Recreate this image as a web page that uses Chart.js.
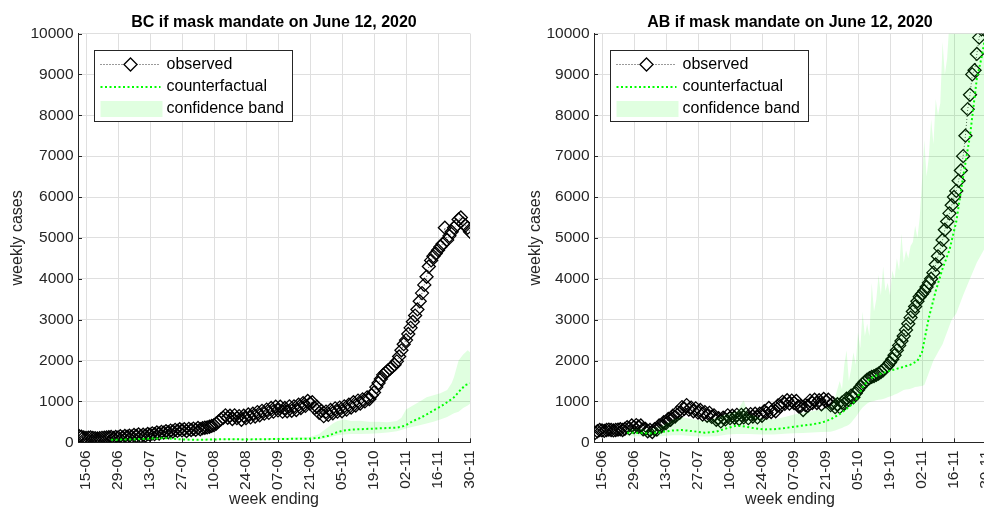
<!DOCTYPE html>
<html lang="en">
<head>
<meta charset="UTF-8">
<title>Mask mandate counterfactual</title>
<script src="https://cdn.jsdelivr.net/npm/chart.js"></script>
<style>
  html, body { margin: 0; padding: 0; background: #fff; overflow: hidden; }
  body { width: 984px; height: 508px; position: relative; }
  canvas { position: absolute; top: 0; }
  #bc { left: 0; }
  #ab { left: 492px; }
</style>
</head>
<body>

<canvas id="bc" width="492" height="508"></canvas>
<canvas id="ab" width="516" height="508"></canvas>

<script>
// x axis: days counted from 15 June 2020, observed series starts 12 June (day -3)
const firstDay = -3;
const tickDays = [0, 14, 28, 42, 56, 70, 84, 98, 112, 126, 140, 154, 168];
const tickLabels = ['15-06', '29-06', '13-07', '27-07', '10-08', '24-08', '07-09',
                    '21-09', '05-10', '19-10', '02-11', '16-11', '30-11'];
const yTicks = [0, 1000, 2000, 3000, 4000, 5000, 6000, 7000, 8000, 9000, 10000];

// BC - one value per day
const obsBC = [
  150, 135, 120, 110, 115, 120, 110, 100, 95, 100, 110, 115, 120, 125,
  130, 105, 130, 120, 150, 120, 155, 135, 160, 140,
  180, 155, 190, 150, 185, 165, 205, 185, 220, 200,
  240, 215, 255, 235, 270, 245, 285, 265, 305, 280,
  320, 290, 320, 275, 330, 300, 335, 305, 350, 320,
  345, 355, 365, 380, 400, 420, 460, 510, 560, 600,
  660, 600, 650, 570, 660, 590, 640, 550, 650, 590,
  680, 610, 700, 630, 740, 660, 770, 700, 800, 720,
  840, 750, 870, 780, 870, 750, 840, 760, 880, 770,
  880, 790, 920, 840, 960, 890, 1010, 950, 980, 840,
  870, 720, 770, 640, 750, 670, 790, 710, 830, 750,
  850, 760, 880, 800, 920, 850, 980, 900, 1020, 950,
  1050, 1000, 1100, 1060, 1150, 1220, 1350, 1450, 1550, 1650,
  1700, 1750, 1800, 1850, 1900, 1980, 2100, 2250, 2400, 2500,
  2650, 2800, 2950, 3100, 3250, 3450, 3650, 3850, 4050, 4300,
  4450, 4550, 4620, 4700, 4780, 4850, 5250, 4950, 5050, 5150,
  5250, 5300, 5450, 5500, 5350, 5300, 5250, 5150
];
const cfDaysBC = [11, 14, 21, 28, 35, 42, 49, 56, 63, 70, 77, 84, 91, 98, 102, 106, 109, 112,
                  116, 120, 124, 128, 132, 136, 138, 140, 143, 146, 149, 152, 155, 158, 161, 164, 166, 168];
const cfBC = [60, 65, 70, 90, 100, 70, 60, 70, 75, 70, 75, 80, 85, 90, 110, 160, 230, 280,
              310, 320, 330, 340, 350, 360, 380, 420, 520, 590, 680, 780, 870, 980, 1100, 1290, 1400, 1440];
const bandDaysBC = [11, 20, 28, 35, 42, 50, 56, 63, 70, 77, 84, 91, 98, 102, 105, 108, 110, 113, 116,
                    120, 124, 128, 132, 136, 138, 140, 143, 146, 149, 152, 155, 158, 160, 161, 163, 165, 167, 168];
const lowBC = [45, 50, 65, 75, 50, 45, 50, 55, 50, 55, 55, 60, 60, 70, 100, 140, 170, 190, 200,
               200, 210, 220, 240, 270, 300, 340, 380, 420, 460, 500, 560, 620, 680, 710, 750, 840, 900, 940];
const highBC = [80, 95, 120, 130, 95, 85, 95, 100, 95, 100, 110, 115, 130, 200, 330, 460, 520, 560, 520,
                530, 500, 500, 490, 520, 600, 800, 900, 1000, 1100, 1150, 1200, 1280, 1450, 1600, 2000, 2150, 2250, 2200];

// AB - one value per day
const obsAB = [
  230, 270, 300, 290, 280, 300, 310, 300, 290, 300, 310, 320, 300, 330,
  370, 340, 410, 370, 420, 380, 410, 320, 330, 270,
  300, 250, 320, 310, 410, 390, 490, 470, 570, 550,
  650, 630, 740, 720, 860, 820, 910, 800, 850, 760,
  830, 730, 790, 680, 740, 650, 720, 620, 660, 550,
  590, 510, 600, 560, 660, 590, 650, 600, 670, 570,
  670, 610, 690, 590, 690, 630, 700, 610, 700, 650,
  760, 720, 840, 740, 800, 760, 900, 880, 990, 940,
  1030, 950, 1020, 960, 1010, 880, 890, 790, 910, 890,
  1020, 960, 1040, 960, 1030, 930, 1060, 1000, 1040, 910,
  960, 860, 930, 860, 970, 940, 1070, 1040, 1140, 1100,
  1200, 1280, 1350, 1420, 1480, 1530, 1570, 1600, 1620, 1650,
  1680, 1720, 1760, 1820, 1880, 1950, 2030, 2130, 2250, 2370,
  2480, 2600, 2750, 2900, 3050, 3200, 3320, 3450, 3560, 3630,
  3700, 3800, 3900, 4000, 4150, 4350, 4550, 4750, 4950, 5200,
  5400, 5600, 5800, 6000, 6150, 6400, 6650, 7000, 7500, 8150,
  8500, 9000, 9100, 9500, 9900, 10100, 10400, 10700
];
const cfDaysAB = [11, 16, 21, 26, 31, 35, 40, 45, 50, 55, 59, 63, 67, 71, 75, 80, 84, 88, 92, 96,
                  100, 104, 108, 111, 114, 117, 121, 126, 131, 135, 138, 140, 143, 146, 149, 152, 155, 158, 161, 164, 166, 168];
const cfAB = [235, 230, 220, 250, 290, 300, 270, 235, 260, 350, 410, 380, 340, 315, 320, 350, 380, 410, 440, 480,
              560, 690, 860, 1020, 1350, 1550, 1660, 1750, 1830, 1900, 1990, 2200, 3050, 3700, 4250, 4700, 5400, 6500, 7500, 8900, 9400, 10000];
const bandDaysAB = [11, 16, 21, 26, 31, 35, 40, 45, 50, 55, 59, 62, 64, 70, 75, 80, 84, 88, 92, 96,
                    100, 102, 104, 105, 106, 107, 108, 109, 110, 111, 112, 113, 114, 115, 116, 117, 118, 119,
                    120, 121, 122, 123, 124, 125, 126, 127, 128, 129, 130, 131, 132, 133, 134, 135, 136, 137,
                    138, 139, 140, 141, 142, 143, 144, 145, 146, 147, 148, 149, 150, 151, 152, 153,
                    155, 158, 161, 164, 166, 168];
const lowAB = [150, 150, 140, 150, 170, 170, 150, 140, 150, 190, 200, 200, 200, 190, 190, 210, 220, 230, 240, 250,
               260, 290, 330, 350, 380, 400, 430, 480, 550, 620, 700, 780, 850, 900, 950, 980, 1000, 1010,
               1030, 1040, 1050, 1060, 1080, 1100, 1120, 1140, 1170, 1190, 1220, 1250, 1280, 1290, 1300, 1310, 1330, 1350,
               1360, 1370, 1380, 1400, 1550, 1700, 1850, 2000, 2100, 2200, 2300, 2400, 2550, 2700, 2850, 3000,
               3150, 3600, 4000, 4400, 4600, 4800];
const highAB = [320, 330, 320, 400, 560, 620, 560, 520, 600, 700, 760, 1030, 700, 580, 560, 620, 680, 720, 760, 800,
                900, 1100, 1500, 1300, 1900, 2250, 1500, 1800, 2200, 1900, 2700, 2300, 3200, 2600, 2900, 2600, 3900, 3200,
                3500, 4100, 3600, 4300, 3700, 3900, 3600, 4200, 4000, 4500, 4200, 5100, 4400, 4700, 4500, 4800, 4900, 5300,
                5000, 5500, 6400, 7400, 6500, 7000, 7900, 7300, 8400, 8000, 8300, 9800, 9000, 9400, 10300, 10000,
                11000, 12000, 13000, 14000, 14500, 15000];

const axisColor = '#262626';
const gridColor = '#dfdfdf';
const bandColor = 'rgba(0, 255, 0, 0.12)';
Chart.defaults.font.family = '"Liberation Sans", Arial, Helvetica, sans-serif';

function dailyPoints(vals) {
  return vals.map((v, i) => ({x: firstDay + i, y: v}));
}
function pairPoints(days, vals) {
  return days.map((d, i) => ({x: d, y: vals[i]}));
}

// title, legend box and inward tick marks (matlab look)
const panelDecor = {
  id: 'panelDecor',
  beforeDatasetsDraw(chart) {
    const {ctx, chartArea: a, scales: {x, y}} = chart;
    ctx.save();
    ctx.strokeStyle = axisColor;
    ctx.lineWidth = 1;
    ctx.beginPath();
    y.ticks.forEach(t => {
      const py = Math.round(y.getPixelForValue(t.value)) + 0.5;
      ctx.moveTo(a.left, py); ctx.lineTo(a.left + 4, py);
    });
    x.ticks.forEach(t => {
      const px = Math.round(x.getPixelForValue(t.value)) + 0.5;
      ctx.moveTo(px, a.bottom); ctx.lineTo(px, a.bottom - 4);
    });
    ctx.stroke();
    ctx.restore();
  },
  afterDraw(chart, args, opts) {
    const {ctx, chartArea: a} = chart;
    ctx.save();
    ctx.fillStyle = '#000';
    ctx.font = 'bold 16px "Liberation Sans", Arial, sans-serif';
    ctx.textAlign = 'center';
    ctx.textBaseline = 'alphabetic';
    ctx.fillText(opts.title, (a.left + a.right) / 2, 27);

    // legend
    const bx = Math.round(a.left + 16) + 0.5, by = Math.round(a.top + 16) + 0.5;
    const bw = 198, bh = 71;
    ctx.fillStyle = '#fff';
    ctx.fillRect(bx, by, bw, bh);
    ctx.strokeStyle = axisColor;
    ctx.lineWidth = 1;
    ctx.strokeRect(bx, by, bw, bh);

    const r1 = by + 14, r2 = by + 36.5, r3 = by + 58.5;
    ctx.strokeStyle = '#000';
    ctx.lineWidth = 0.8;
    ctx.setLineDash([1, 2]);
    ctx.beginPath(); ctx.moveTo(bx + 6, r1); ctx.lineTo(bx + 66, r1); ctx.stroke();
    ctx.setLineDash([]);
    ctx.fillStyle = '#fff';
    ctx.lineWidth = 1.3;
    ctx.beginPath();
    ctx.moveTo(bx + 36 - 6.5, r1); ctx.lineTo(bx + 36, r1 - 6.5);
    ctx.lineTo(bx + 36 + 6.5, r1); ctx.lineTo(bx + 36, r1 + 6.5);
    ctx.closePath(); ctx.fill(); ctx.stroke();

    ctx.strokeStyle = '#00ff00';
    ctx.lineWidth = 2;
    ctx.setLineDash([2, 2.5]);
    ctx.beginPath(); ctx.moveTo(bx + 6, r2); ctx.lineTo(bx + 66, r2); ctx.stroke();
    ctx.setLineDash([]);

    ctx.fillStyle = bandColor;
    ctx.fillRect(bx + 6, r3 - 8, 62, 16);

    ctx.fillStyle = '#000';
    ctx.font = '16px "Liberation Sans", Arial, sans-serif';
    ctx.textAlign = 'left';
    ctx.textBaseline = 'middle';
    ctx.fillText('observed', bx + 72, r1);
    ctx.fillText('counterfactual', bx + 72, r2);
    ctx.fillText('confidence band', bx + 72, r3);
    ctx.restore();
  }
};

function makePanel(id, title, obs, cfDays, cf, bandDays, low, high, yAxisWidth, yTitlePad) {
  return new Chart(document.getElementById(id), {
    type: 'line',
    data: {
      datasets: [
        {
          label: 'observed',
          data: dailyPoints(obs),
          borderColor: '#000',
          borderWidth: 0.7,
          borderDash: [1, 2],
          pointStyle: 'rectRot',
          pointRadius: 6.5,
          pointBorderWidth: 1.3,
          pointBorderColor: '#000',
          pointBackgroundColor: 'rgba(0,0,0,0)',
          order: 3
        },
        {
          label: 'counterfactual',
          data: pairPoints(cfDays, cf),
          borderColor: '#00ff00',
          borderWidth: 2,
          borderDash: [2, 2.5],
          pointRadius: 0,
          order: 2
        },
        {
          label: 'band low',
          data: pairPoints(bandDays, low),
          borderColor: 'rgba(0,0,0,0)',
          borderWidth: 0,
          pointRadius: 0,
          fill: false,
          order: 1
        },
        {
          label: 'confidence band',
          data: pairPoints(bandDays, high),
          borderColor: 'rgba(0,0,0,0)',
          borderWidth: 0,
          pointRadius: 0,
          backgroundColor: bandColor,
          fill: '-1',
          order: 0
        }
      ]
    },
    options: {
      responsive: false,
      animation: false,
      events: [],
      layout: { padding: { top: 33.5, right: 22, left: 0, bottom: 0 } },
      plugins: {
        legend: { display: false },
        tooltip: { enabled: false },
        panelDecor: { title: title }
      },
      scales: {
        x: {
          type: 'linear',
          min: -3.5,
          max: 168,
          afterBuildTicks: s => { s.ticks = tickDays.map(v => ({value: v})); },
          afterFit: s => { s.height = 65.7; s.paddingLeft = 0; s.paddingRight = 0; },
          ticks: {
            autoSkip: false,
            minRotation: 90,
            maxRotation: 90,
            padding: 8,
            color: axisColor,
            font: { size: 15.5 },
            callback: v => tickLabels[tickDays.indexOf(v)]
          },
          grid: { color: gridColor, drawTicks: false },
          border: { color: axisColor },
          title: {
            display: true, text: 'week ending', color: axisColor,
            font: { size: 16, lineHeight: 1 }, padding: { top: 0, bottom: 0 }
          }
        },
        y: {
          min: 0,
          max: 10000,
          afterBuildTicks: s => { s.ticks = yTicks.map(v => ({value: v})); },
          afterFit: s => { s.width = yAxisWidth; s.paddingTop = 0; s.paddingBottom = 0; },
          ticks: {
            padding: 4.5,
            color: axisColor,
            font: { size: 15.5 },
            callback: v => String(v)
          },
          grid: { color: gridColor, drawTicks: false },
          border: { color: axisColor },
          title: {
            display: true, text: 'weekly cases', color: axisColor,
            font: { size: 16, lineHeight: 1.2 }, padding: { top: yTitlePad, bottom: 0 }
          }
        }
      }
    },
    plugins: [panelDecor]
  });
}

makePanel('bc', 'BC if mask mandate on June 12, 2020', obsBC, cfDaysBC, cfBC, bandDaysBC, lowBC, highBC, 78, 8.2);
makePanel('ab', 'AB if mask mandate on June 12, 2020', obsAB, cfDaysAB, cfAB, bandDaysAB, lowAB, highAB, 102, 33.7);
</script>

</body>
</html>
